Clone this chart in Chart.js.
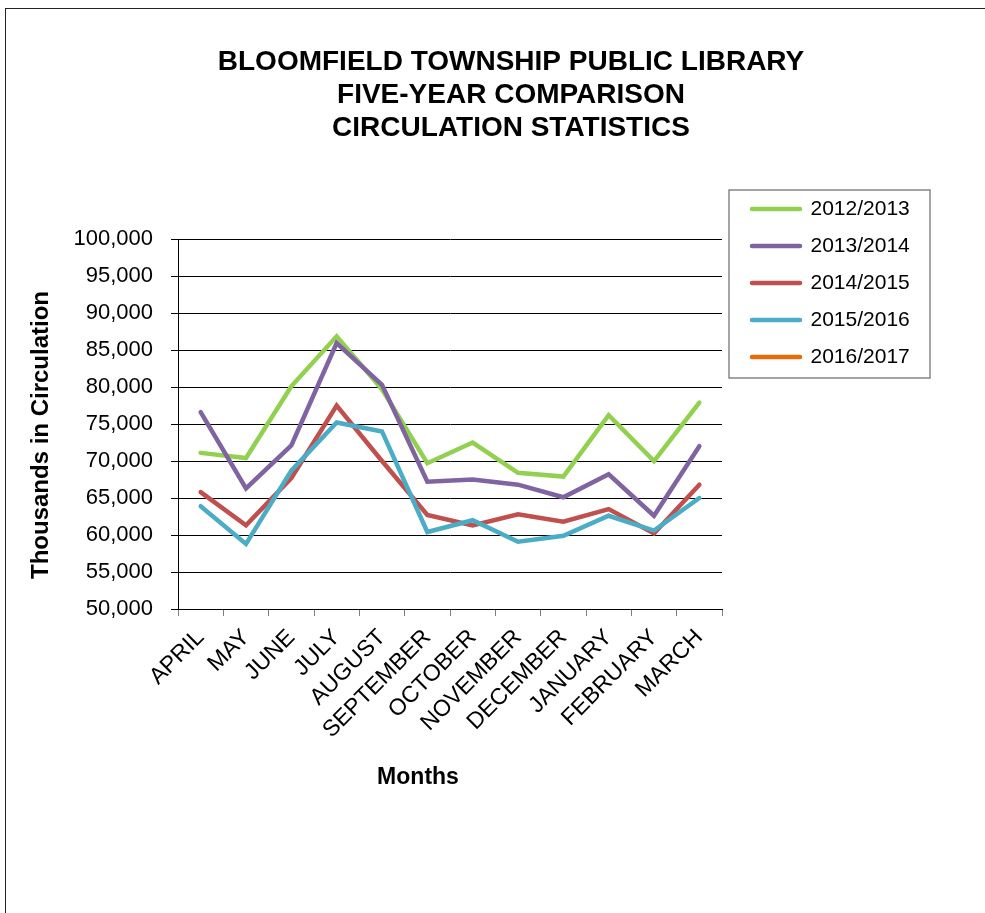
<!DOCTYPE html>
<html>
<head>
<meta charset="utf-8">
<title>Bloomfield Township Public Library - Circulation Statistics</title>
<script src="https://cdn.jsdelivr.net/npm/chart.js@4.4.1/dist/chart.umd.min.js"></script>
<style>
  html, body { margin: 0; padding: 0; background: #fff; overflow: hidden; }
  #frame {
    position: absolute; left: 5px; top: 8px; width: 1200px; height: 1200px;
    border-left: 1px solid #222; border-top: 1px solid #222;
  }
  #circChart { position: absolute; left: 0; top: 0; }
</style>
</head>
<body>
<div id="frame"></div>
<canvas id="circChart" width="985" height="913"></canvas>
<script>
const months = [
  "APRIL", "MAY", "JUNE", "JULY", "AUGUST", "SEPTEMBER",
  "OCTOBER", "NOVEMBER", "DECEMBER", "JANUARY", "FEBRUARY", "MARCH",
];
const seasons = ["2012/2013", "2013/2014", "2014/2015", "2015/2016", "2016/2017"];

const circ2012 = [71100, 70400, 80100, 86850, 79700, 69700, 72500, 68400, 67900, 76200, 70000, 77900];
const circ2013 = [76600, 66300, 72100, 85950, 80300, 67200, 67500, 66800, 65100, 68200, 62600, 72000];
const circ2014 = [65800, 61300, 67700, 77500, 70000, 62700, 61300, 62800, 61800, 63500, 60200, 66800];
const circ2015 = [63900, 58800, 68700, 75200, 74000, 60400, 62000, 59100, 59900, 62600, 60600, 65000];
const circ2016 = [];

const yMin = 50000;
const yMax = 100000;
const yStep = 5000;

const lineColors = ["#92D050", "#8064A2", "#C0504D", "#4BACC6", "#E46C0A"];

const FONT = "'Liberation Sans', Arial, sans-serif";
Chart.defaults.font.family = FONT;
Chart.defaults.color = "#000";

function withCommas(v) {
  return String(v).replace(/\B(?=(\d{3})+(?!\d))/g, ",");
}

function makeSeries(i, values) {
  return {
    label: seasons[i],
    data: values,
    borderColor: lineColors[i],
    backgroundColor: lineColors[i],
    borderWidth: 4.5,
    borderCapStyle: "round",
    tension: 0,
    fill: false,
    pointRadius: 0,
    pointHoverRadius: 0,
    pointBorderWidth: 4.5,
    pointBorderColor: lineColors[i],
    order: 4 - i, // later seasons are drawn on top, like the original
  };
}

// legend sits outside the plot, framed; axis titles placed like the original
const chartDecor = {
  id: "chart_decor",
  afterLayout: (chart) => {
    const lg = chart.legend;
    lg.left = 736;
    lg.top = 182.5;
    lg.width = 210;
    lg.height = 220;
    lg.right = lg.left + lg.width;
    lg.bottom = lg.top + lg.height;
  },
  afterDraw: (chart) => {
    const { ctx } = chart;
    const lg = chart.legend;
    ctx.save();
    ctx.strokeStyle = "#868686";
    ctx.lineWidth = 1.5;
    ctx.strokeRect(lg.left - 7, lg.top + 7.5, 201, 188);

    ctx.fillStyle = "#000";
    ctx.font = "bold 23px " + FONT;
    ctx.textAlign = "center";
    ctx.textBaseline = "middle";
    ctx.fillText("Months", 418, 778);

    ctx.font = "bold 24px " + FONT;
    ctx.translate(41, 435);
    ctx.rotate(-Math.PI / 2);
    ctx.fillText("Thousands in Circulation", 0, 0);
    ctx.restore();
  },
};

const circCanvas = document.getElementById("circChart");
const circChart = new Chart(circCanvas, {
  type: "line",
  data: {
    labels: months,
    datasets: [
      makeSeries(0, circ2012),
      makeSeries(1, circ2013),
      makeSeries(2, circ2014),
      makeSeries(3, circ2015),
      makeSeries(4, circ2016),
    ],
  },
  options: {
    responsive: false,
    animation: false,
    devicePixelRatio: 1,
    layout: {
      padding: { left: 37, right: 0, top: 0, bottom: 0 },
    },
    scales: {
      x: {
        offset: true,
        grid: {
          display: true,
          drawOnChartArea: false,
          drawTicks: true,
          tickLength: 7,
          offset: true,
          color: "#808080",
        },
        border: { display: true, color: "#000", width: 1 },
        ticks: {
          autoSkip: false,
          minRotation: 45,
          maxRotation: 45,
          padding: 17,
          color: "#000",
          font: { size: 23, lineHeight: 0.1 },
        },
        afterFit: (scale) => {
          scale.height = 304;
        },
      },
      y: {
        min: yMin,
        max: yMax,
        grid: {
          color: "#000",
          lineWidth: 1,
          drawTicks: true,
          tickLength: 7,
        },
        border: { display: true, color: "#000", width: 1 },
        ticks: {
          stepSize: yStep,
          padding: 18,
          color: "#000",
          font: { size: 22 },
          callback: (v) => withCommas(v),
        },
        afterFit: (scale) => {
          scale.width = 141;
        },
      },
      yRight: {
        type: "linear",
        position: "right",
        display: true,
        grid: { display: false, drawTicks: false },
        border: { display: false },
        ticks: { display: false },
        afterFit: (scale) => {
          scale.width = 263;
        },
      },
    },
    plugins: {
      title: {
        display: true,
        text: [
          "BLOOMFIELD TOWNSHIP PUBLIC LIBRARY",
          "FIVE-YEAR COMPARISON",
          "CIRCULATION STATISTICS",
        ],
        color: "#000",
        font: { size: 28, weight: "bold", lineHeight: 1.179 },
        padding: { top: 45.5, bottom: 94.5 },
      },
      legend: {
        display: true,
        position: "chartArea",
        align: "start",
        labels: {
          usePointStyle: true,
          pointStyle: "line",
          pointStyleWidth: 48,
          boxWidth: 48,
          padding: 16,
          color: "#000",
          font: { size: 21 },
          sort: (a, b) => a.datasetIndex - b.datasetIndex,
          generateLabels: (chart) =>
            Chart.defaults.plugins.legend.labels.generateLabels(chart).map((item) => ({
              ...item,
              strokeStyle: lineColors[item.datasetIndex],
              fillStyle: lineColors[item.datasetIndex],
              lineWidth: 4.5,
              lineCap: "round",
            })),
        },
      },
      tooltip: { enabled: false },
    },
  },
  plugins: [chartDecor],
});
</script>
</body>
</html>
